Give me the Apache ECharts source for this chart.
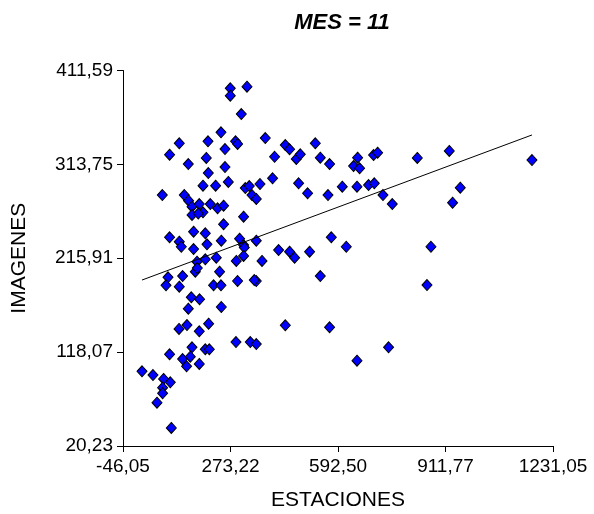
<!DOCTYPE html>
<html>
<head>
<meta charset="utf-8">
<title>MES = 11</title>
<script src="https://cdn.jsdelivr.net/npm/echarts@6/dist/echarts.min.js"></script>
<style>
  html, body { margin: 0; padding: 0; background: #fff; }
  #chart { width: 594px; height: 514px; }
</style>
</head>
<body>
<div id="chart"></div>
<script>
// Stations (x) versus images (y) for month 11
const estaciones = [
  272.6, 322.2, 272.6, 305.3, 245.0, 121.1, 206.4, 288.3, 294.3, 376.5,
  92.3, 201.3, 256.9, 404.2, 147.9, 256.9, 207.3, 398.2, 191.5, 229.0,
  266.7, 317.2, 329.0, 360.8, 337.0, 349.8, 70.7, 136.0, 148.8, 158.9,
  180.5, 213.2, 234.9, 252.7, 158.9, 191.5, 177.6, 312.1, 252.7, 92.3,
  163.6, 198.4, 121.1, 127.1, 163.6, 203.4, 245.9, 300.2, 312.1, 314.2,
  349.8, 416.1, 173.7, 198.4, 231.0, 312.1, 290.4, 366.8, 168.7, 174.6,
  240.8, 87.6, 131.0, 81.7, 121.1, 223.0, 245.0, 294.3, 349.8, 343.9,
  156.8, 181.4, 147.9, 245.9, 120.3, 144.0, 180.5, 208.2, 289.5, 332.0,
  349.8, 158.9, 92.3, 131.0, 153.8, 198.4, 210.3, 142.8, 180.5, 10.4,
  43.0, 74.5, 94.4, 71.6, 71.6, 54.9, 97.4, 436.0, 448.7, 525.1,
  468.6, 480.5, 539.9, 567.5, 650.7, 638.8, 656.6, 698.2, 710.1, 828.0,
  475.5, 502.2, 562.8, 605.2, 648.9, 683.3, 700.3, 726.1, 753.7, 572.6,
  617.1, 448.7, 463.6, 508.1, 539.9, 436.0, 567.5, 742.7, 648.9, 923.0,
  1168.6, 955.6, 932.8, 868.6, 856.8
];
const imagenes = [
  393.0, 394.7, 385.3, 366.2, 347.2, 335.7, 337.8, 337.8, 335.0, 341.2,
  323.8, 320.4, 329.7, 321.7, 314.1, 311.0, 304.7, 299.2, 291.5, 291.5,
  295.4, 289.1, 291.2, 293.3, 281.8, 277.7, 281.8, 281.8, 275.9, 269.6,
  272.4, 272.4, 268.0, 270.7, 261.0, 263.8, 262.5, 259.2, 251.3, 237.7,
  243.6, 241.9, 233.2, 227.9, 225.5, 230.4, 234.2, 236.3, 229.7, 227.1,
  234.2, 224.5, 212.3, 214.8, 216.5, 218.3, 213.1, 213.1, 201.9, 205.7,
  201.9, 196.0, 197.4, 187.7, 186.3, 187.7, 187.7, 192.2, 192.2, 193.2,
  175.2, 173.1, 163.3, 165.1, 142.2, 146.3, 139.8, 147.7, 128.6, 128.6,
  126.5, 123.1, 115.8, 110.9, 113.3, 121.0, 121.0, 103.3, 105.7, 98.1,
  94.2, 90.1, 86.6, 81.0, 75.2, 65.4, 39.0, 333.9, 329.5, 335.7,
  319.4, 324.2, 320.7, 314.1, 320.7, 312.0, 309.7, 323.5, 325.9, 320.4,
  294.0, 283.6, 281.8, 290.5, 290.5, 292.2, 294.0, 281.8, 272.4, 237.7,
  227.9, 222.7, 216.5, 222.7, 197.4, 146.0, 143.9, 123.1, 109.1, 327.7,
  318.3, 289.4, 273.8, 227.9, 188.0
];

// Fitted trend line, end points at the smallest and largest station value
const trendX = [10.4, 1168.6];
const trendY = [193.2, 344.4];

// Axis ticks and their printed labels
const xTicks = [-46.05, 273.22, 592.50, 911.77, 1231.05];
const xTickLabels = ['-46,05', '273,22', '592,50', '911,77', '1231,05'];
const yTicks = [20.23, 118.07, 215.91, 313.75, 411.59];
const yTickLabels = ['20,23', '118,07', '215,91', '313,75', '411,59'];

const points = estaciones.map((x, i) => [x, imagenes[i]]);
const trend = trendX.map((x, i) => [x, trendY[i]]);

const FONT = '"Liberation Sans", Arial, sans-serif';

function labelFor(ticks, labels) {
  return function (v) {
    for (let i = 0; i < ticks.length; i++) {
      if (Math.abs(ticks[i] - v) < 1e-6) return labels[i];
    }
    return '';
  };
}

const chart = echarts.init(document.getElementById('chart'), null, { renderer: 'canvas' });
chart.setOption({
  animation: false,
  backgroundColor: '#ffffff',
  title: {
    text: 'MES = 11',
    left: 337,
    top: 7,
    textAlign: 'center',
    textStyle: {
      fontFamily: FONT,
      fontSize: 22,
      fontWeight: 'bold',
      fontStyle: 'italic',
      color: '#000'
    }
  },
  grid: {
    left: 123, right: 41, top: 70.5, bottom: 68,
    containLabel: false,
    outerBoundsMode: 'none'
  },
  xAxis: {
    type: 'value',
    min: xTicks[0],
    max: xTicks[xTicks.length - 1],
    name: 'ESTACIONES',
    nameLocation: 'middle',
    nameGap: 44,
    nameTextStyle: { fontFamily: FONT, fontSize: 21, color: '#000' },
    axisLine: { show: true, onZero: false, lineStyle: { color: '#000', width: 1 } },
    axisTick: { show: true, length: 6, inside: false, customValues: xTicks, lineStyle: { color: '#000' } },
    axisLabel: {
      customValues: xTicks,
      formatter: labelFor(xTicks, xTickLabels),
      fontFamily: FONT, fontSize: 19, color: '#000', margin: 11
    },
    splitLine: { show: false }
  },
  yAxis: {
    type: 'value',
    min: yTicks[0],
    max: yTicks[yTicks.length - 1],
    name: 'IMAGENES',
    nameLocation: 'middle',
    nameRotate: 90,
    nameGap: 93,
    nameTextStyle: { fontFamily: FONT, fontSize: 21, color: '#000' },
    axisLine: { show: true, onZero: false, lineStyle: { color: '#000', width: 1 } },
    axisTick: { show: true, length: 6, inside: false, customValues: yTicks, lineStyle: { color: '#000' } },
    axisLabel: {
      customValues: yTicks,
      formatter: labelFor(yTicks, yTickLabels),
      fontFamily: FONT, fontSize: 19, color: '#000', margin: 10
    },
    splitLine: { show: false }
  },
  series: [
    {
      type: 'scatter',
      data: points,
      symbol: 'diamond',
      symbolSize: [10, 11],
      itemStyle: { color: '#0000ff', borderColor: '#000', borderWidth: 1, opacity: 1 },
      silent: true
    },
    {
      type: 'line',
      data: trend,
      symbol: 'none',
      lineStyle: { color: '#000', width: 1 },
      silent: true,
      z: 3
    }
  ]
});
</script>
</body>
</html>
